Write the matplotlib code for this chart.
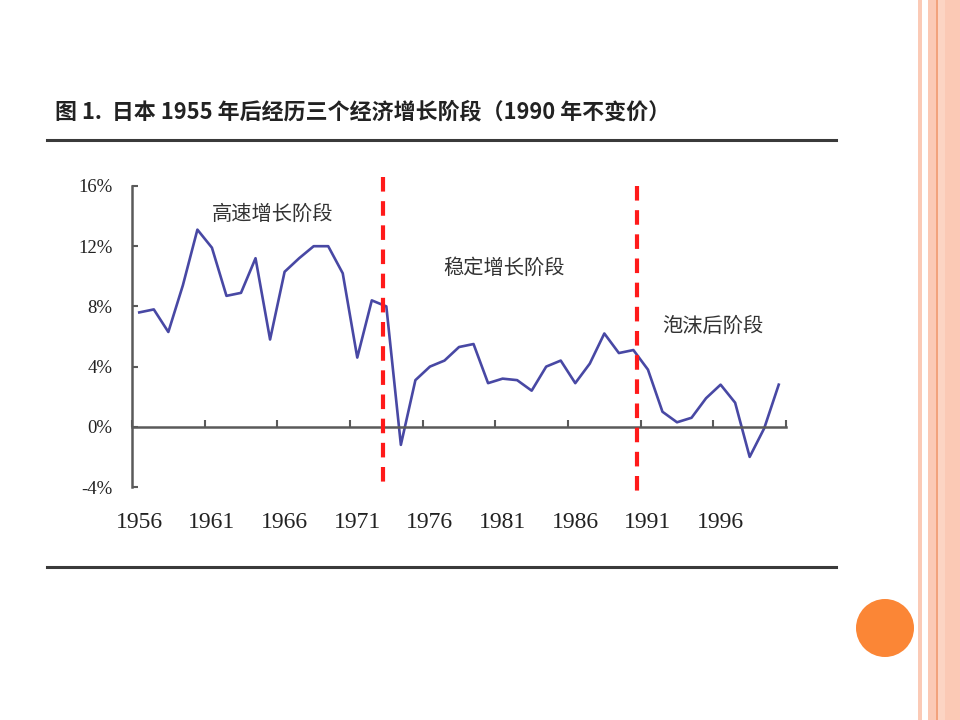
import matplotlib
matplotlib.use("Agg")
import matplotlib.pyplot as plt
import matplotlib.patches as mpatches
from matplotlib.lines import Line2D
import matplotlib.transforms as mtransforms

plt.rcParams['font.family'] = ['Noto Sans CJK SC', 'DejaVu Sans']

# ── data ─────────────────────────────────────────────────────────────────────
YEARS = list(range(1956, 2001))
GROWTH = [
    7.6, 7.8, 6.3, 9.4, 13.1, 11.9, 8.7, 8.9, 11.2, 5.8,    # 1956-1965
    10.3, 11.2, 12.0, 12.0, 10.2, 4.6, 8.4, 8.0, -1.2, 3.1,  # 1966-1975
    4.0, 4.4, 5.3, 5.5, 2.9, 3.2, 3.1, 2.4, 4.0, 4.4,        # 1976-1985
    2.9, 4.2, 6.2, 4.9, 5.1, 3.8, 1.0, 0.3, 0.6, 1.9,        # 1986-1995
    2.8, 1.6, -2.0, -0.1, 2.8,                               # 1996-2000
]
X_LABELS = ["1956", "1961", "1966", "1971", "1976", "1981", "1986", "1991", "1996"]
Y_TICKS = [-4, 0, 4, 8, 12, 16]
Y_LABELS = ["-4%", "0%", "4%", "8%", "12%", "16%"]
PHASE_NAMES = ["高速增长阶段", "稳定增长阶段", "泡沫后阶段"]
TITLE = "图 1.  日本 1955 年后经历三个经济增长阶段（1990 年不变价）"

W, H = 960, 720
fig = plt.figure(figsize=(W / 100, H / 100), dpi=100)
fig.patch.set_facecolor("white")

# ── slide decoration on the right ────────────────────────────────────────────
def band(x0, x1, color):
    fig.patches.append(mpatches.Rectangle((x0 / W, 0), (x1 - x0) / W, 1,
                                          transform=fig.transFigure,
                                          facecolor=color, edgecolor="none"))

band(918, 922, "#fbcab6")
band(928, 960, "#fbc9b5")
band(937.5, 945, "#fcd4c3")
band(936, 937.5, "#f2a27c")

fig.patches.append(mpatches.Ellipse((885 / W, 1 - 628 / H), 58 / W, 58 / H,
                                    transform=fig.transFigure,
                                    facecolor="#fb8636", edgecolor="none"))

# ── title and rules ──────────────────────────────────────────────────────────
fig.text(55 / W, 1 - 112 / H, TITLE, fontsize=15.8, fontweight="bold",
         color="#222222", ha="left", va="center")
for yy in (140, 567):
    fig.lines.append(Line2D([47 / W, 836 / W], [1 - yy / H, 1 - yy / H],
                            transform=fig.transFigure, color="#3a3a3a", lw=2.2))

# ── chart ────────────────────────────────────────────────────────────────────
ax = fig.add_axes([132 / W, 1 - 487 / H, 654 / W, 301 / H])
ax.set_facecolor("none")

ax.plot(YEARS, GROWTH, color="#4848a4", lw=1.9)

# phase dividers
for xv, (y0, y1) in zip([1972.75, 1990.25], [(16.6, -3.8), (16.0, -4.4)]):
    ax.plot([xv, xv], [y0, y1], color="#ff1a1a", lw=3, ls=(0, (3.5, 2.3)),
            clip_on=False, zorder=3)

ax.set_xlim(1955.5, 2000.5)
ax.set_ylim(-4, 16)

for s in ("top", "right"):
    ax.spines[s].set_visible(False)
ax.spines["bottom"].set_position(("data", 0))
for s in ("left", "bottom"):
    ax.spines[s].set_color("#5a5a5a")
    ax.spines[s].set_linewidth(1.8)

ax.set_yticks(Y_TICKS)
ax.set_yticklabels(Y_LABELS, family="Liberation Serif", fontsize=13.5, color="#222222")
ax.tick_params(axis="y", direction="in", length=4, width=1.5, color="#5a5a5a", pad=14)

ax.set_xticks([1955.5 + 5 * k for k in range(10)])
ax.set_xticklabels([])
ax.tick_params(axis="x", direction="in", length=5, width=1.5, color="#5a5a5a")

trans = mtransforms.blended_transform_factory(ax.transData, ax.transAxes)
for lab in X_LABELS:
    ax.text(int(lab), -0.118, lab, transform=trans, ha="center", va="center",
            family="Liberation Serif", fontsize=17, color="#222222")

# phase labels
for name, (xv, yv) in zip(PHASE_NAMES, [(1965.2, 14.1), (1981.1, 10.5), (1995.5, 6.7)]):
    ax.text(xv, yv, name, ha="center", va="center", fontsize=14.6, color="#333333")

fig.savefig("out.png", dpi=100)
